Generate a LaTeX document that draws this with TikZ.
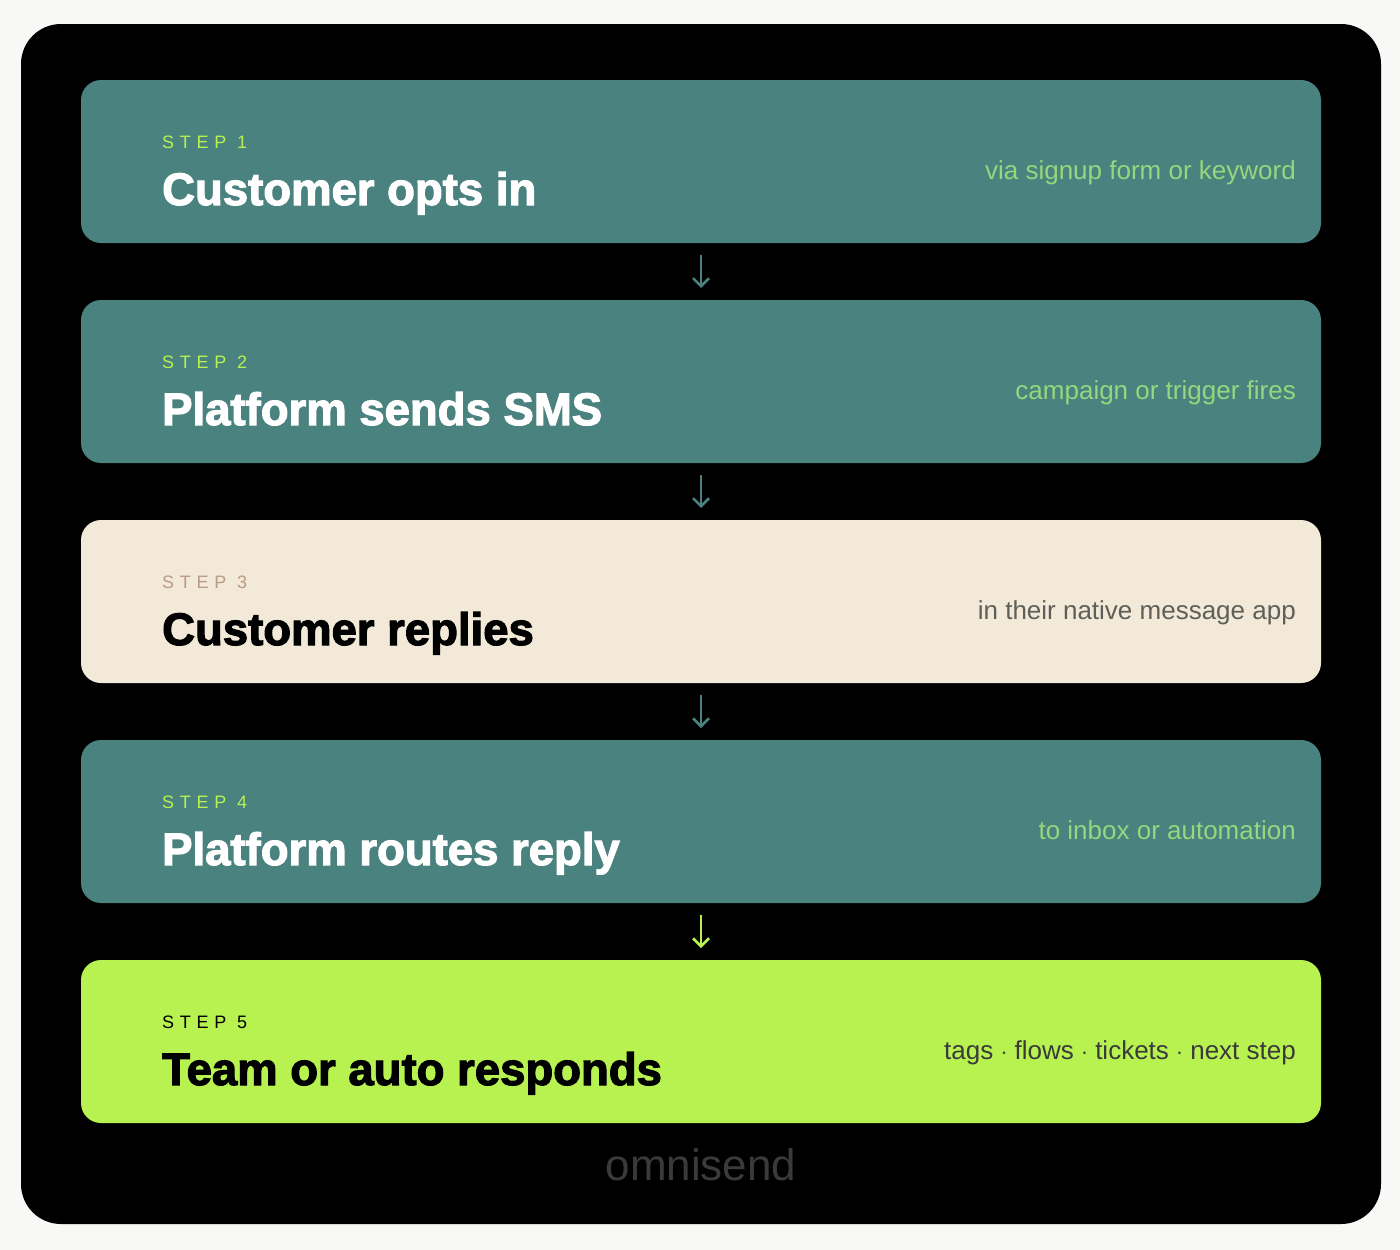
\documentclass[tikz,border=0pt]{standalone}
\usepackage{fontspec}
\usepackage{xcolor}
\usetikzlibrary{positioning,arrows.meta}
\setmainfont{Liberation Sans}
\newfontfamily\titlefont{Liberation Sans}[BoldFeatures={FakeBold=2.5}]
\newfontfamily\stepfont{Liberation Sans}[LetterSpace=32]
\definecolor{flowteal}{HTML}{4A827F}
\definecolor{flowlime}{HTML}{B8F251}
\definecolor{flowbeige}{HTML}{F2E9D8}
\definecolor{flowtan}{HTML}{B89C86}
\definecolor{notegreen}{HTML}{96D67E}
\definecolor{notegray}{HTML}{5F5F5A}
\definecolor{notedark}{HTML}{3A3A3A}
\definecolor{pagebg}{HTML}{F8F8F6}

\tikzset{
  stepbox/.style={rounded corners=20pt, minimum width=1240pt, minimum height=163pt,
    inner sep=0pt, outer sep=0pt},
  steplabel/.style={anchor=base west, inner sep=0pt, font=\stepfont\fontsize{18}{20}\selectfont},
  steptitle/.style={anchor=base west, inner sep=0pt, font=\titlefont\bfseries\fontsize{45.5}{52}\selectfont},
  stepnote/.style={anchor=base east, inner sep=0pt, font=\fontsize{26}{30}\selectfont},
  flowarrow/.style={line width=2.5pt, -{Straight Barb[length=8pt,width=16pt,line width=2.5pt]},
    shorten <=12pt, shorten >=12pt}
}

\begin{document}
\begin{tikzpicture}
  \useasboundingbox[fill=pagebg] (0,0) rectangle (1400pt,-1250pt);
  \fill[black, rounded corners=40pt] (21pt,-24pt) rectangle (1381pt,-1224pt);

  % step boxes
  \node[stepbox, fill=flowteal] (s1) at (701pt,-161.5pt) {};
  \node[stepbox, fill=flowteal, below=57pt of s1] (s2) {};
  \node[stepbox, fill=flowbeige, below=57pt of s2] (s3) {};
  \node[stepbox, fill=flowteal, below=57pt of s3] (s4) {};
  \node[stepbox, fill=flowlime, below=57pt of s4] (s5) {};

  % texts
  \node[steplabel, text=flowlime] (l1) at ([xshift=81pt,yshift=-68pt]s1.north west) {STEP 1};
  \node[steptitle, text=white] (t1) at ([xshift=81pt,yshift=-125pt]s1.north west) {Customer opts in};
  \node[stepnote, text=notegreen] (n1) at ([xshift=-25pt,yshift=-99pt]s1.north east) {via signup form or keyword};

  \node[steplabel, text=flowlime] (l2) at ([xshift=81pt,yshift=-68pt]s2.north west) {STEP 2};
  \node[steptitle, text=white] (t2) at ([xshift=81pt,yshift=-125pt]s2.north west) {Platform sends SMS};
  \node[stepnote, text=notegreen] (n2) at ([xshift=-25pt,yshift=-99pt]s2.north east) {campaign or trigger fires};

  \node[steplabel, text=flowtan] (l3) at ([xshift=81pt,yshift=-68pt]s3.north west) {STEP 3};
  \node[steptitle, text=black] (t3) at ([xshift=81pt,yshift=-125pt]s3.north west) {Customer replies};
  \node[stepnote, text=notegray] (n3) at ([xshift=-25pt,yshift=-99pt]s3.north east) {in their native message app};

  \node[steplabel, text=flowlime] (l4) at ([xshift=81pt,yshift=-68pt]s4.north west) {STEP 4};
  \node[steptitle, text=white] (t4) at ([xshift=81pt,yshift=-125pt]s4.north west) {Platform routes reply};
  \node[stepnote, text=notegreen] (n4) at ([xshift=-25pt,yshift=-99pt]s4.north east) {to inbox or automation};

  \node[steplabel, text=black] (l5) at ([xshift=81pt,yshift=-68pt]s5.north west) {STEP 5};
  \node[steptitle, text=black] (t5) at ([xshift=81pt,yshift=-125pt]s5.north west) {Team or auto responds};
  \node[stepnote, text=notedark] (n5) at ([xshift=-25pt,yshift=-99pt]s5.north east) {tags $\cdot$ flows $\cdot$ tickets $\cdot$ next step};

  % arrows
  \draw[flowarrow, flowteal] (s1) -- (s2);
  \draw[flowarrow, flowteal] (s2) -- (s3);
  \draw[flowarrow, flowteal] (s3) -- (s4);
  \draw[flowarrow, flowlime] (s4) -- (s5);

  \node[anchor=base, inner sep=0pt, text=notedark, font=\fontsize{44}{50}\selectfont]
    (logo) at ([yshift=-57pt]s5.south) {omnisend};
\end{tikzpicture}
\end{document}
